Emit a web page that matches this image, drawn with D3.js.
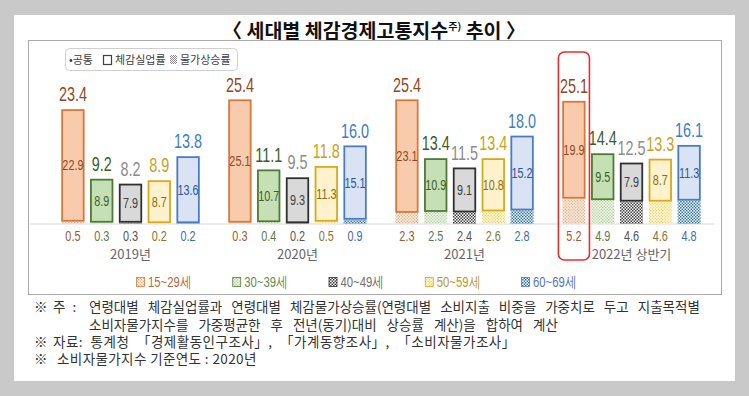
<!DOCTYPE html>
<html>
<head>
<meta charset="utf-8">
<title>세대별 체감경제고통지수 추이</title>
<script src="https://d3js.org/d3.v7.min.js"></script>
<style>
  body { margin: 0; background: #c9c9c9; }
  svg { display: block; }
  .kr { font-family: "Noto Sans CJK KR", sans-serif; }
  .num { font-family: "Liberation Sans", Arial, sans-serif; }
</style>
</head>
<body>
<svg id="chart"></svg>
<script>
const periods = ["2019년", "2020년", "2021년", "2022년 상반기"];
const ages = ["15~29세", "30~39세", "40~49세", "50~59세", "60~69세"];
// 체감실업률
const unemployment = [
  [22.9, 8.9, 7.9, 8.7, 13.6],
  [25.1, 10.7, 9.3, 11.3, 15.1],
  [23.1, 10.9, 9.1, 10.8, 15.2],
  [19.9, 9.5, 7.9, 8.7, 11.3]
];
// 물가상승률
const inflation = [
  [0.5, 0.3, 0.3, 0.2, 0.2],
  [0.3, 0.4, 0.2, 0.5, 0.9],
  [2.3, 2.5, 2.4, 2.6, 2.8],
  [5.2, 4.9, 4.6, 4.6, 4.8]
];
// 체감경제고통지수
const totals = [
  [23.4, 9.2, 8.2, 8.9, 13.8],
  [25.4, 11.1, 9.5, 11.8, 16.0],
  [25.4, 13.4, 11.5, 13.4, 18.0],
  [25.1, 14.4, 12.5, 13.3, 16.1]
];
const notes = [
  "연령대별 체감실업률과 연령대별 체감물가상승률(연령대별 소비지출 비중을 가중치로 두고 지출목적별",
  "소비자물가지수를 가중평균한 후 전년(동기)대비 상승률 계산)을 합하여 계산",
  "자료: 통계청 「경제활동인구조사」, 「가계동향조사」, 「소비자물가조사」",
  "소비자물가지수 기준연도 : 2020년"
];

const fills = ["#f8cbad", "#c5e0b4", "#d9d9d9", "#fff2cc", "#dae3f3"];
const strokes = ["#d9773a", "#4e7a33", "#303030", "#d9a91c", "#4a7cc4"];
const hatchColors = ["#f4b183", "#b5d69e", "#404040", "#ffd966", "#2e75b6"];
const totalColors = ["#8a4a26", "#3b5e26", "#8c8c8c", "#c9a21a", "#3d7cc9"];
const innerColors = ["#8a4a26", "#3b5e26", "#404040", "#8a6d10", "#2f5597"];
const bottomColors = ["#9c5a34", "#5e7a47", "#555555", "#8a7330", "#3f6ea8"];
const legendColors = ["#b06a45", "#6a8a50", "#707070", "#b8982e", "#5577aa"];

const W = 749, H = 396;
const svg = d3.select("#chart").attr("width", W).attr("height", H);

// condensed looking text: squeeze horizontally
function narrow(sel, x, yPos, size, color, txt, sx = 0.75, anchor = "middle") {
  return sel.append("text").attr("class", "num")
    .attr("transform", `translate(${x},${yPos}) scale(${sx},1)`)
    .attr("text-anchor", anchor).attr("font-size", size)
    .attr("fill", color).text(txt);
}

// hatch patterns
const defs = svg.append("defs");
hatchColors.forEach((c, i) => {
  const p = defs.append("pattern")
    .attr("id", "hatch" + i)
    .attr("patternUnits", "userSpaceOnUse")
    .attr("width", 3).attr("height", 3);
  p.append("rect").attr("width", 3).attr("height", 3).attr("fill", "#fff");
  p.append("rect").attr("width", 1.5).attr("height", 1.5).attr("fill", c);
  p.append("rect").attr("x", 1.5).attr("y", 1.5).attr("width", 1.5).attr("height", 1.5).attr("fill", c);
});
const hatchGray = defs.append("pattern")
  .attr("id", "hatchLegend").attr("patternUnits", "userSpaceOnUse")
  .attr("width", 2).attr("height", 2);
hatchGray.append("rect").attr("width", 2).attr("height", 2).attr("fill", "#fff");
hatchGray.append("rect").attr("width", 1).attr("height", 1).attr("fill", "#8a8a8a");
hatchGray.append("rect").attr("x", 1).attr("y", 1).attr("width", 1).attr("height", 1).attr("fill", "#8a8a8a");

// white page
svg.append("rect").attr("x", 14).attr("y", 15).attr("width", 721).attr("height", 366).attr("fill", "#fff");

// title
const title = svg.append("text").attr("class", "kr")
  .attr("x", 374).attr("y", 38).attr("text-anchor", "middle")
  .attr("font-size", 19.5).attr("font-weight", 700).attr("fill", "#111");
title.append("tspan").text("〈 세대별 체감경제고통지수");
title.append("tspan").attr("font-size", 10).attr("dy", -8).text("주)");
title.append("tspan").attr("dy", 8).text(" 추이 〉");

// dotted frame
svg.append("rect").attr("x", 28.5).attr("y", 40.5).attr("width", 693).attr("height", 254)
  .attr("fill", "none").attr("stroke", "#555").attr("stroke-width", 1).attr("stroke-dasharray", "1,1");

// scales
const x0 = d3.scaleBand().domain(periods).range([47, 715]).padding(0);
const x1 = d3.scaleBand().domain(ages).range([0, x0.bandwidth()])
  .paddingInner(0.2).paddingOuter(0.5);
const y = d3.scaleLinear().domain([0, 30]).range([224, 77]);

// baseline
svg.append("line").attr("x1", 30).attr("x2", 714)
  .attr("y1", y(0)).attr("y2", y(0)).attr("stroke", "#d9d9d9").attr("stroke-width", 1.2);

const bw = x1.bandwidth();
periods.forEach((p, pi) => {
  const g = svg.append("g").attr("transform", `translate(${x0(p)},0)`);
  ages.forEach((a, ai) => {
    const bx = x1(a);
    const cx = bx + bw / 2;
    const inf = inflation[pi][ai], un = unemployment[pi][ai], tot = totals[pi][ai];
    // inflation hatch
    g.append("rect").attr("x", bx).attr("width", bw)
      .attr("y", y(inf)).attr("height", y(0) - y(inf))
      .attr("fill", `url(#hatch${ai})`);
    // unemployment box
    g.append("rect").attr("x", bx + 0.75).attr("width", bw - 1.5)
      .attr("y", y(inf + un) + 0.75).attr("height", y(inf) - y(inf + un) - 1.5)
      .attr("fill", fills[ai]).attr("stroke", strokes[ai]).attr("stroke-width", 1.8);
    narrow(g, cx, y(inf + un / 2) + 5, 15.5, innerColors[ai], un.toFixed(1), 0.7);
    narrow(g, cx, y(tot) - 8, 20, totalColors[ai], tot.toFixed(1), 0.72);
    narrow(g, cx, y(0) + 17, 14.5, bottomColors[ai], inf.toFixed(1), 0.75);
  });
  g.append("text").attr("class", "kr")
    .attr("x", x0.bandwidth() / 2).attr("y", y(0) + 35)
    .attr("text-anchor", "middle").attr("font-size", 13)
    .attr("fill", "#666").text(p);
});

// highlight on 2022 15~29
const hx = x0(periods[3]) + x1(ages[0]);
svg.append("rect").attr("x", hx - 4).attr("width", bw + 8)
  .attr("y", 52).attr("height", 208).attr("rx", 6)
  .attr("fill", "none").attr("stroke", "#ee2b2b").attr("stroke-width", 1.6);

// top legend box
svg.append("rect").attr("x", 65.5).attr("y", 48.5).attr("width", 172).attr("height", 22).attr("rx", 4)
  .attr("fill", "#fff").attr("stroke", "#cfcfcf");
const lt = svg.append("g").attr("class", "kr").attr("font-size", 11).attr("fill", "#404040");
lt.append("text").attr("x", 69).attr("y", 63.5).text("•공통");
lt.append("rect").attr("x", 103.5).attr("y", 55.5).attr("width", 8).attr("height", 9)
  .attr("fill", "#fff").attr("stroke", "#404040").attr("stroke-width", 1.2);
lt.append("text").attr("x", 115).attr("y", 63.5).text("체감실업률");
lt.append("rect").attr("x", 170).attr("y", 55).attr("width", 7).attr("height", 9).attr("fill", "url(#hatchLegend)");
lt.append("text").attr("x", 180).attr("y", 63.5).text("물가상승률");

// bottom legend
const lx = d3.scalePoint().domain(ages).range([136, 521]);
ages.forEach((a, ai) => {
  svg.append("rect").attr("x", lx(a) + 0.5).attr("y", 277.5).attr("width", 8).attr("height", 9)
    .attr("fill", `url(#hatch${ai})`).attr("stroke", strokes[ai]).attr("stroke-width", 0.8);
  narrow(svg, lx(a) + 12, 287, 14.5, legendColors[ai], a, 0.78, "start");
});

// footnotes
const fn = svg.append("g").attr("class", "kr").attr("font-size", 13.5).attr("fill", "#333");
fn.append("text").attr("x", 34).attr("y", 312).text("※");
fn.append("text").attr("x", 53).attr("y", 312).attr("word-spacing", 4).text("주 :");
fn.append("text").attr("x", 89).attr("y", 312).attr("word-spacing", 6).text(notes[0]);
fn.append("text").attr("x", 89).attr("y", 330).attr("word-spacing", 7).text(notes[1]);
fn.append("text").attr("x", 34).attr("y", 347).text("※");
fn.append("text").attr("x", 53).attr("y", 347).attr("word-spacing", 4).attr("letter-spacing", 0.5).text(notes[2]);
fn.append("text").attr("x", 34).attr("y", 364).text("※");
fn.append("text").attr("x", 57).attr("y", 364).attr("letter-spacing", 0.4).text(notes[3]);
</script>
</body>
</html>
